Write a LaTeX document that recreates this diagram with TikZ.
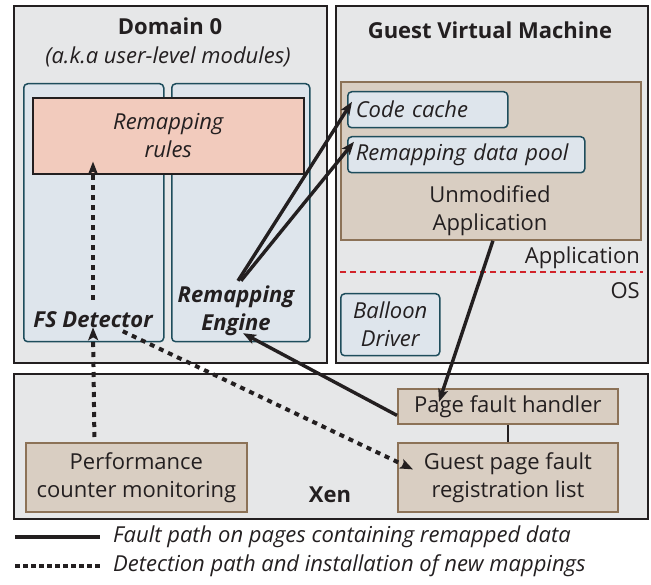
\documentclass[tikz,border=0pt]{standalone}
\usepackage{fontspec}
\setmainfont{Open Sans}
\usetikzlibrary{arrows.meta,calc}

\definecolor{panelfill}{HTML}{E6E7E8}
\definecolor{panelline}{HTML}{231F20}
\definecolor{modfill}{HTML}{DEE5EC}
\definecolor{modline}{HTML}{1E4D5C}
\definecolor{rulefill}{HTML}{F2CBBD}
\definecolor{tanfill}{HTML}{D9CEC2}
\definecolor{tanline}{HTML}{8C7257}
\definecolor{osline}{HTML}{D2232A}
\definecolor{ink}{HTML}{231F20}

\newcommand\figfont{\fontsize{22}{28}\selectfont}

\begin{document}
\begin{tikzpicture}[x=1pt,y=-1pt,
  every node/.style={font=\figfont, text=ink, inner sep=0pt},
  panel/.style={draw=panelline, fill=panelfill, line width=1.6pt, anchor=north west},
  module/.style={draw=modline, fill=modfill, line width=1.5pt, rounded corners=4pt, anchor=north west},
  rulebox/.style={draw=ink, fill=rulefill, line width=1.6pt, anchor=north west, align=center},
  tanbox/.style={draw=tanline, fill=tanfill, line width=1.8pt, anchor=north west, align=center},
  fault/.style={draw=ink, line width=3.4pt, -{Stealth[length=13pt,width=10pt,inset=3pt]}},
  detect/.style={draw=ink, line width=4pt, dash pattern=on 5pt off 5pt, -{Stealth[length=13pt,width=10pt,inset=3pt]}},
  legline/.style={draw=ink, line width=4pt},
]
\useasboundingbox (0,0) rectangle (651,585);

% ---- Domain 0 ----
\node[panel, minimum width=313pt, minimum height=357pt] (dom) at (13,5) {};
\node[font=\figfont\bfseries] (domtitle) at (170,26) {Domain 0};
\node[font=\figfont\itshape] (domsub) at (168,57) {(a.k.a user-level modules)};
\node[module, minimum width=140pt, minimum height=258pt] (fscol) at (23,83) {};
\node[module, minimum width=138pt, minimum height=258pt] (engcol) at (171,83) {};
\node[rulebox, minimum width=271pt, minimum height=76pt, font=\figfont\itshape] (rules) at (32,97) {Remapping\\rules};
\node[font=\figfont\bfseries\itshape] (fs) at (93,320) {FS Detector};
\node[font=\figfont\bfseries\itshape, align=center] (eng) at (236,311) {Remapping\\Engine};

% ---- Guest virtual machine ----
\node[panel, minimum width=312pt, minimum height=357pt] (guest) at (335,5) {};
\node[font=\figfont\bfseries] (guesttitle) at (490,30) {Guest Virtual Machine};
\node[tanbox, minimum width=300pt, minimum height=158pt] (app) at (340,81) {};
\node[module, minimum width=160pt, minimum height=36pt, inner xsep=8pt, text width=144pt, align=left, font=\figfont\itshape] (cc) at (347,91) {Code cache};
\node[module, minimum width=237pt, minimum height=36pt, inner xsep=8pt, text width=221pt, align=left, font=\figfont\itshape] (pool) at (347,136) {Remapping data pool};
\node[align=center] (apptext) at (490,211) {Unmodified\\Application};
\node[anchor=east] (applabel) at (640,258) {Application};
\coordinate (osl) at (340,272);
\coordinate (osr) at (643,272);
\draw[osline, line width=1.6pt, dash pattern=on 6pt off 4pt] (osl) -- (osr);
\node[anchor=east] (oslabel) at (640,291) {OS};
\node[module, minimum width=99pt, minimum height=62pt, align=center, font=\figfont\itshape] (balloon) at (340,293) {Balloon\\Driver};

% ---- Xen ----
\node[panel, minimum width=634pt, minimum height=145pt] (xen) at (13,373) {};
\node[tanbox, minimum width=221pt, minimum height=69pt] (perf) at (25,442) {Performance\\counter monitoring};
\node[font=\figfont\bfseries] (xenlabel) at (330,495) {Xen};
\node[tanbox, minimum width=220pt, minimum height=35pt] (pfh) at (397,388) {Page fault handler};
\node[tanbox, minimum width=220pt, minimum height=69pt] (gpf) at (397,442) {Guest page fault\\registration list};
\draw[draw=ink, line width=1.5pt] (pfh.south) -- (gpf.north);

% ---- fault path ----
\draw[fault] ($(eng.north)+(2,-5)$) -- ($(cc.west)+(5,-8)$);
\draw[fault] ($(eng.north)+(5,-5)$) -- ($(pool.west)+(7,-13)$);
\draw[fault] ($(app.south)+(2,0)$) -- ($(pfh.north west)+(42,14)$);
\draw[fault] ($(pfh.west)+(0,9)$) -- ($(eng.south)+(7,-3)$);

% ---- detection path ----
\draw[detect] ($(perf.north)+(-42,-5)$) -- ($(fs.south)+(0,-1)$);
\draw[detect] ($(fs.north)+(0,-12)$) -- ($(rules.south west)+(61,-13)$);
\draw[detect] ($(fs.south east)+(-30,3)$) -- ($(gpf.west)+(16,-8)$);

% ---- legend ----
\coordinate (s1) at (15,537);
\coordinate (s2) at (100,537);
\coordinate (d1) at (15,566);
\coordinate (d2) at (100,566);
\draw[legline] (s1) -- (s2);
\draw[legline, dash pattern=on 5pt off 3pt] (d1) -- (d2);
\node[anchor=west, font=\figfont\itshape] (legfault) at (113,537) {Fault path on pages containing remapped data};
\node[anchor=west, font=\figfont\itshape] (legdetect) at (113,566) {Detection path and installation of new mappings};
\end{tikzpicture}
\end{document}
